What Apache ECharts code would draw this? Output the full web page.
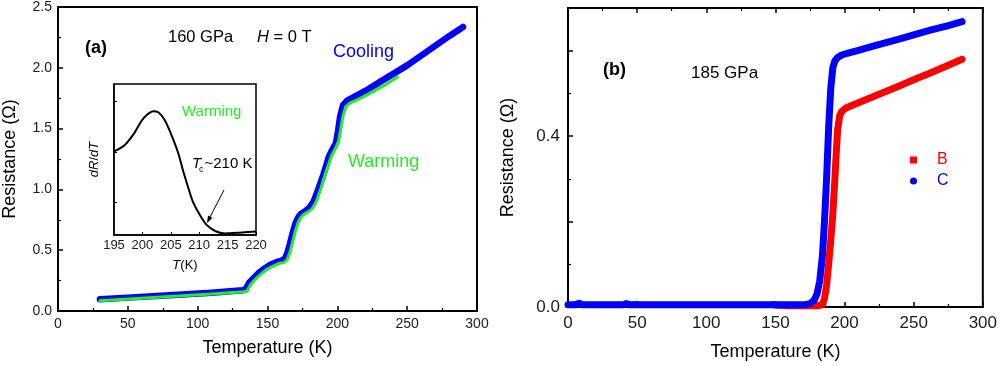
<!DOCTYPE html>
<html><head><meta charset="utf-8">
<script src="https://cdn.jsdelivr.net/npm/echarts@6/dist/echarts.min.js"></script>
<style>html,body{margin:0;padding:0;background:#fff}#c{width:1000px;height:366px}</style>
</head><body><div id="c"></div>
<script>
// ---- Panel (a): 160 GPa, cooling / warming ----
const coolT = [30, 50, 80, 110, 132, 134.5, 137, 140, 144, 148, 152, 156, 160, 162.5, 164, 166, 168, 170, 172, 174, 177, 180, 183, 186, 190, 194, 197, 199, 200.5, 202, 204, 207, 212, 220, 230, 240, 250, 260, 270, 280, 290];
const coolR = [0.096, 0.11, 0.13, 0.15, 0.17, 0.18, 0.235, 0.27, 0.315, 0.35, 0.38, 0.40, 0.415, 0.43, 0.47, 0.55, 0.64, 0.72, 0.77, 0.80, 0.82, 0.85, 0.90, 0.99, 1.12, 1.27, 1.34, 1.38, 1.48, 1.60, 1.69, 1.73, 1.76, 1.81, 1.88, 1.95, 2.02, 2.10, 2.18, 2.26, 2.336];
const warmT = [30, 80, 110, 133, 135.5, 138, 142, 146, 150, 154, 158, 162, 164, 166, 168, 170, 172, 174, 176, 179, 182, 185, 188, 192, 196, 199, 201, 202.5, 204, 206, 209, 215, 225, 235, 243];
const warmR = [0.085, 0.12, 0.14, 0.158, 0.165, 0.22, 0.27, 0.31, 0.345, 0.37, 0.39, 0.40, 0.42, 0.48, 0.57, 0.66, 0.73, 0.77, 0.795, 0.815, 0.84, 0.90, 1.00, 1.15, 1.28, 1.345, 1.40, 1.50, 1.60, 1.68, 1.71, 1.74, 1.80, 1.865, 1.925];
// inset dR/dT (arbitrary units)
const insetT = [195, 196.9, 198.6, 199.8, 200.7, 201.9, 202.8, 203.9, 205.1, 206.3, 207.2, 208.1, 208.9, 210.1, 211.3, 212.8, 214.5, 217.5, 220];
const insetV = [2.01, 2.14, 2.38, 2.61, 2.73, 2.81, 2.79, 2.64, 2.34, 1.98, 1.61, 1.28, 1.01, 0.75, 0.55, 0.43, 0.38, 0.40, 0.42];
// ---- Panel (b): 185 GPa, samples B and C ----
const bT = [148, 152, 160, 170, 180, 184, 185.5, 187, 188.5, 190, 191.5, 193, 194, 195, 196.5, 198, 201, 210, 225, 240, 250, 262, 275, 285];
const bR = [0.006, 0.004, 0.003, 0.003, 0.003, 0.005, 0.02, 0.05, 0.10, 0.155, 0.216, 0.30, 0.36, 0.415, 0.448, 0.458, 0.466, 0.478, 0.498, 0.518, 0.532, 0.548, 0.566, 0.58];
const cT = [0, 5, 8, 11, 20, 40, 42, 45, 50, 52, 60, 80, 100, 120, 150, 165, 172, 175, 178, 180, 182, 184, 185.5, 187, 188.5, 190, 191.5, 193, 195, 198, 202, 210, 222, 240, 250, 262, 275, 285];
const cR = [0.005, 0.005, 0.009, 0.005, 0.005, 0.005, 0.008, 0.005, 0.006, 0.005, 0.005, 0.005, 0.005, 0.005, 0.005, 0.005, 0.006, 0.008, 0.016, 0.03, 0.06, 0.12, 0.20, 0.30, 0.42, 0.51, 0.56, 0.576, 0.584, 0.59, 0.594, 0.601, 0.612, 0.628, 0.637, 0.648, 0.659, 0.668];
const insetTicks = [1, 2, 3];

const FONT = '"Liberation Sans", Arial, sans-serif';
const zip = (a, b) => a.map((v, i) => [v, b[i]]);

function axisBase(extra) {
  return Object.assign({
    type: 'value',
    axisLine: {show: true, onZero: false, lineStyle: {color: '#000', width: 2}},
    axisTick: {show: true, inside: true, length: 5, lineStyle: {color: '#000', width: 1.5}},
    minorTick: {show: true, splitNumber: 2, length: 3, lineStyle: {color: '#000', width: 1.2}},
    splitLine: {show: false},
    minorSplitLine: {show: false},
    axisLabel: {color: '#1a1a1a', fontFamily: FONT, fontSize: 14, margin: 6},
    nameLocation: 'middle',
    nameTextStyle: {color: '#000', fontFamily: FONT, fontSize: 18}
  }, extra);
}

const chart = echarts.init(document.getElementById('c'));
chart.setOption({
  animation: false,
  backgroundColor: '#fff',
  grid: [
    {left: 56, top: 6, width: 421, height: 305, show: true, borderColor: '#000', borderWidth: 2, backgroundColor: 'transparent'},
    {left: 114, top: 84, width: 142, height: 151, show: true, borderColor: '#000', borderWidth: 1.5, backgroundColor: '#fff'},
    {left: 568, top: 8, width: 415, height: 302, show: true, borderColor: '#000', borderWidth: 2, backgroundColor: 'transparent'}
  ],
  xAxis: [
    axisBase({gridIndex: 0, min: 0, max: 300, interval: 50, name: 'Temperature (K)', nameGap: 28}),
    axisBase({gridIndex: 1, min: 195, max: 220, interval: 5,
      axisLine: {show: true, onZero: false, lineStyle: {color: '#000', width: 1.5}},
      axisTick: {show: true, inside: true, length: 3, lineStyle: {color: '#000', width: 1}},
      minorTick: {show: false},
      axisLabel: {color: '#1a1a1a', fontFamily: FONT, fontSize: 13, margin: 4},
      name: '{i|T}(K)', nameGap: 24,
      nameTextStyle: {color: '#000', fontFamily: FONT, fontSize: 13, rich: {i: {fontStyle: 'italic', fontFamily: FONT, fontSize: 13}}}}),
    axisBase({gridIndex: 2, min: 0, max: 300, interval: 50, name: 'Temperature (K)', nameGap: 36,
      axisLabel: {color: '#1a1a1a', fontFamily: FONT, fontSize: 17, margin: 8}}),
    axisBase({gridIndex: 2, position: 'top', min: 0, max: 300, interval: 50, axisLabel: {show: false}})
  ],
  yAxis: [
    axisBase({gridIndex: 0, min: 0, max: 2.5, interval: 0.5, name: 'Resistance (Ω)', nameGap: 39,
      axisLabel: {color: '#1a1a1a', fontFamily: FONT, fontSize: 14, margin: 6, formatter: v => v.toFixed(1)}}),
    axisBase({gridIndex: 1, min: 0.35, max: 3.35,
      axisLine: {show: true, onZero: false, lineStyle: {color: '#000', width: 1.5}},
      axisTick: {show: true, inside: true, length: 3, customValues: insetTicks, lineStyle: {color: '#000', width: 1}},
      minorTick: {show: false},
      axisLabel: {show: false},
      name: '{i|d}{i|R}{n|/}{i|d}{i|T}', nameGap: 13,
      nameTextStyle: {color: '#000', fontFamily: FONT, fontSize: 13,
        rich: {i: {fontStyle: 'italic', fontFamily: FONT, fontSize: 13}, n: {fontFamily: FONT, fontSize: 13}}}}),
    axisBase({gridIndex: 2, min: 0, max: 0.7, interval: 0.2, name: 'Resistance (Ω)', nameGap: 51,
      axisLabel: {color: '#1a1a1a', fontFamily: FONT, fontSize: 17, margin: 8,
        formatter: v => (Math.abs(v) < 1e-9 ? '0.0' : (Math.abs(v - 0.4) < 1e-9 ? '0.4' : ''))}})
  ],
  legend: {
    orient: 'vertical', left: 905, top: 147, itemWidth: 7, itemHeight: 7, itemGap: 5,
    textStyle: {fontFamily: FONT, fontSize: 16, padding: [0, 0, 0, 15]},
    data: [
      {name: 'B', icon: 'rect', textStyle: {color: '#ff0000'}},
      {name: 'C', icon: 'circle', textStyle: {color: '#0000ff'}}
    ]
  },
  series: [
    {name: 'Cooling', type: 'line', xAxisIndex: 0, yAxisIndex: 0, data: zip(coolT, coolR), symbol: 'none', z: 2,
      lineStyle: {color: '#0000ff', width: 6.5, cap: 'round', join: 'round'}},
    {name: 'Warming', type: 'line', xAxisIndex: 0, yAxisIndex: 0, data: zip(warmT, warmR), symbol: 'none', z: 3,
      lineStyle: {color: '#22ee22', width: 3, cap: 'round', join: 'round'}},
    {name: 'dRdT', type: 'line', xAxisIndex: 1, yAxisIndex: 1, data: zip(insetT, insetV), symbol: 'none', smooth: 0.3, z: 4,
      lineStyle: {color: '#000', width: 2, join: 'round'}},
    {name: 'B', type: 'line', xAxisIndex: 2, yAxisIndex: 2, data: zip(bT, bR), symbol: 'none', z: 2,
      itemStyle: {color: '#ff0000'}, lineStyle: {color: '#ff0000', width: 7, cap: 'round', join: 'round'}},
    {name: 'C', type: 'line', xAxisIndex: 2, yAxisIndex: 2, data: zip(cT, cR), symbol: 'none', z: 3,
      itemStyle: {color: '#0000ff'}, lineStyle: {color: '#0000ff', width: 7, cap: 'round', join: 'round'}}
  ],
  graphic: [
    {type: 'text', x: 85, y: 48, style: {text: '(a)', font: 'bold 18px ' + FONT, fill: '#000', align: 'left', verticalAlign: 'middle', textAlign: 'left', textVerticalAlign: 'middle'}},
    {type: 'text', x: 168, y: 37, style: {text: '160 GPa', font: '16.5px ' + FONT, fill: '#000', align: 'left', verticalAlign: 'middle', textAlign: 'left', textVerticalAlign: 'middle'}},
    {type: 'text', x: 257, y: 37, style: {text: '{i|H} = 0 T', font: '16.5px ' + FONT, fill: '#000', align: 'left', verticalAlign: 'middle', textAlign: 'left', textVerticalAlign: 'middle',
      rich: {i: {fontStyle: 'italic', fontFamily: FONT, fontSize: 16.5, fill: '#000'}}}},
    {type: 'text', x: 333, y: 52, style: {text: 'Cooling', font: '18px ' + FONT, fill: '#0000ff', align: 'left', verticalAlign: 'middle', textAlign: 'left', textVerticalAlign: 'middle'}},
    {type: 'text', x: 348, y: 162, style: {text: 'Warming', font: '18px ' + FONT, fill: '#22ee22', align: 'left', verticalAlign: 'middle', textAlign: 'left', textVerticalAlign: 'middle'}},
    {type: 'text', x: 182, y: 112, z: 10, style: {text: 'Warming', font: '15px ' + FONT, fill: '#22ee22', align: 'left', verticalAlign: 'middle', textAlign: 'left', textVerticalAlign: 'middle'}},
    {type: 'text', x: 192, y: 164, z: 10, style: {text: 'T', font: 'italic 15px ' + FONT, fill: '#000', align: 'left', verticalAlign: 'middle', textAlign: 'left', textVerticalAlign: 'middle'}},
    {type: 'text', x: 199, y: 170, z: 10, style: {text: 'c', font: '9px ' + FONT, fill: '#000', align: 'left', verticalAlign: 'middle', textAlign: 'left', textVerticalAlign: 'middle'}},
    {type: 'text', x: 204.5, y: 164, z: 10, style: {text: '~210 K', font: '15px ' + FONT, fill: '#000', align: 'left', verticalAlign: 'middle', textAlign: 'left', textVerticalAlign: 'middle'}},
    {type: 'line', z: 10, shape: {x1: 224, y1: 190, x2: 209, y2: 219}, style: {stroke: '#000', lineWidth: 1}},
    {type: 'polygon', z: 10, shape: {points: [[207, 223], [212.4, 218], [208, 215.6]]}, style: {fill: '#000'}},
    {type: 'text', x: 603, y: 70, style: {text: '(b)', font: 'bold 18px ' + FONT, fill: '#000', align: 'left', verticalAlign: 'middle', textAlign: 'left', textVerticalAlign: 'middle'}},
    {type: 'text', x: 691, y: 73, style: {text: '185 GPa', font: '17px ' + FONT, fill: '#000', align: 'left', verticalAlign: 'middle', textAlign: 'left', textVerticalAlign: 'middle'}}
  ]
});
</script></body></html>
